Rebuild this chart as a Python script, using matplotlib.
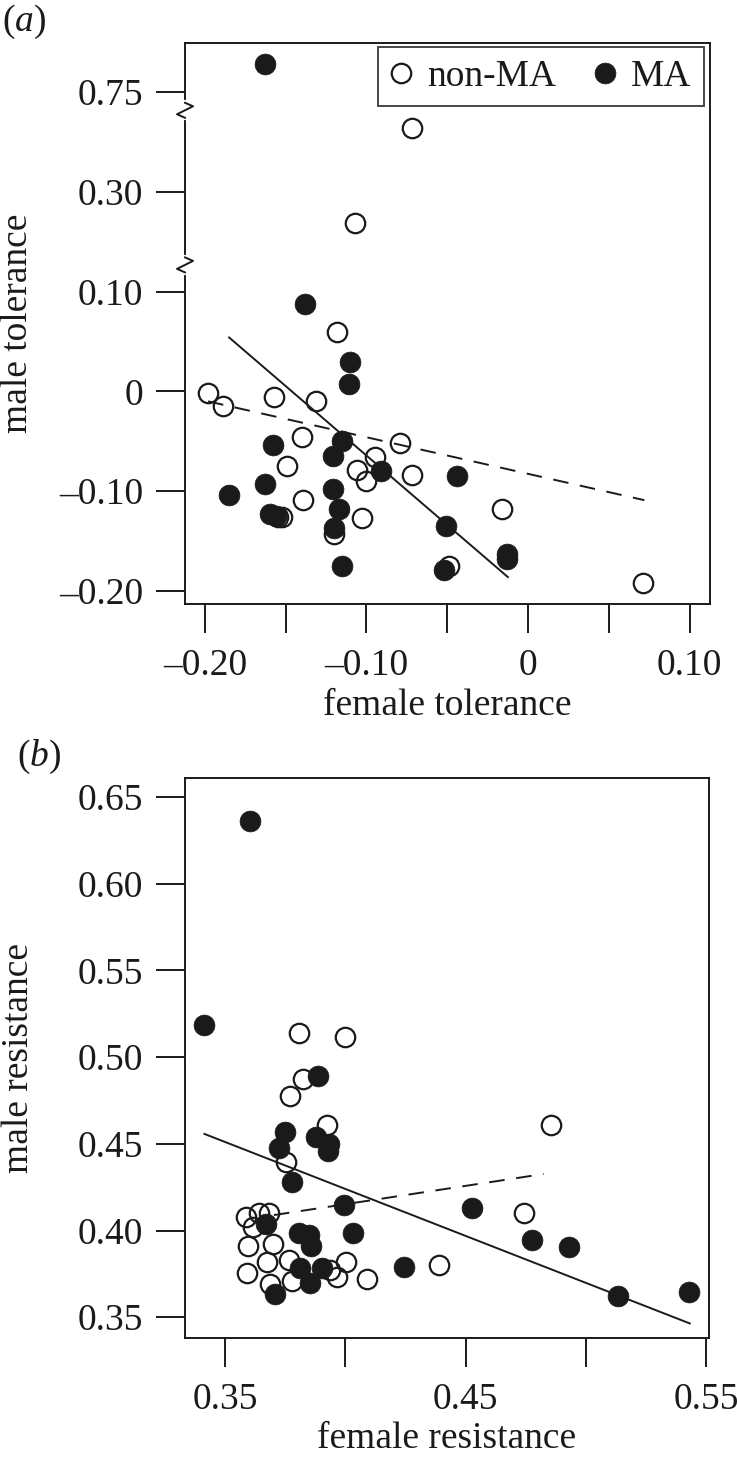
import numpy as np
import matplotlib
matplotlib.use("Agg")
import matplotlib.pyplot as plt
from matplotlib.lines import Line2D

plt.rcParams['font.family'] = ['Liberation Serif', 'DejaVu Serif']
plt.rcParams['mathtext.fontset'] = 'custom'
plt.rcParams['mathtext.it'] = 'Liberation Serif:italic'
plt.rcParams['mathtext.rm'] = 'Liberation Serif'

FS = 27

# ---- panel (a): tolerance ----
tol_non_x = [-0.198, -0.189, -0.157, -0.131, -0.140, -0.149, -0.139, -0.155, -0.152, -0.118, -0.120,
             -0.103, -0.106, -0.100, -0.095, -0.079, -0.072, -0.016, -0.049, 0.071, -0.072, -0.107]
tol_non_y = [-0.002, -0.015, -0.006, -0.010, -0.046, -0.075, -0.109, -0.126, -0.126, 0.059, -0.143,
             -0.127, -0.079, -0.090, -0.066, -0.052, -0.084, -0.118, -0.175, -0.192, 0.589, 0.237]
tol_ma_x = [-0.185, -0.163, -0.158, -0.160, -0.156, -0.115, -0.121, -0.121, -0.117, -0.120, -0.115,
            -0.110, -0.111, -0.091, -0.138, -0.044, -0.051, -0.013, -0.013, -0.052, -0.163]
tol_ma_y = [-0.104, -0.093, -0.054, -0.123, -0.125, -0.050, -0.065, -0.098, -0.118, -0.137, -0.175,
            0.029, 0.007, -0.080, 0.088, -0.085, -0.135, -0.163, -0.168, -0.179, 0.875]
tol_ma_fit_x = [-0.185, -0.0125]
tol_ma_fit_y = [0.054, -0.186]
tol_non_fit_x = [-0.198, 0.072]
tol_non_fit_y = [-0.010, -0.109]

tol_xticks = [-0.20, -0.15, -0.10, -0.05, 0.0, 0.05, 0.10]
tol_xlabels = ['\u20130.20', '', '\u20130.10', '', '0', '', '0.10']
tol_yticks = [-0.20, -0.10, 0.0, 0.10, 0.30, 0.75]
tol_ylabels = ['\u20130.20', '\u20130.10', '0', '0.10', '0.30', '0.75']

# ---- panel (b): resistance ----
res_non_x = [0.3809, 0.3998, 0.3823, 0.3769, 0.3925, 0.3753, 0.4856, 0.4744, 0.4388, 0.4091, 0.3586, 0.3641,
             0.3684, 0.3617, 0.3597, 0.3700, 0.3675, 0.3590, 0.3766, 0.4003, 0.3937, 0.3966, 0.3688, 0.3778]
res_non_y = [0.5139, 0.5116, 0.4873, 0.4773, 0.4609, 0.4397, 0.4609, 0.4099, 0.3800, 0.3718, 0.4076, 0.4099,
             0.4099, 0.4022, 0.3912, 0.3920, 0.3816, 0.3756, 0.3829, 0.3820, 0.3772, 0.3733, 0.3689, 0.3708]
res_ma_x = [0.3414, 0.3603, 0.3888, 0.3750, 0.3723, 0.3877, 0.3934, 0.3927, 0.3780, 0.3994, 0.3669, 0.3809,
            0.3848, 0.3856, 0.4033, 0.3813, 0.3902, 0.3853, 0.3708, 0.4245, 0.4528, 0.4775, 0.4930, 0.5133, 0.5430]
res_ma_y = [0.5187, 0.6360, 0.4892, 0.4571, 0.4474, 0.4542, 0.4499, 0.4461, 0.4280, 0.4147, 0.4037, 0.3983,
            0.3974, 0.3912, 0.3983, 0.3785, 0.3781, 0.3695, 0.3633, 0.3791, 0.4128, 0.3945, 0.3903, 0.3625, 0.3646]
res_ma_fit_x = [0.3414, 0.5433]
res_ma_fit_y = [0.4557, 0.3464]
res_non_fit_x = [0.3703, 0.4825]
res_non_fit_y = [0.4089, 0.4326]

res_xticks = [0.35, 0.40, 0.45, 0.50, 0.55]
res_xlabels = ['0.35', '', '0.45', '', '0.55']
res_yticks = [0.35, 0.40, 0.45, 0.50, 0.55, 0.60, 0.65]
res_ylabels = ['0.35', '0.40', '0.45', '0.50', '0.55', '0.60', '0.65']

# broken y axis for panel (a): piecewise linear scale
knots_val = [-1.0, 0.10, 0.30, 0.75, 1.20]
knots_unit = [-10.0, 1.0, 2.0, 3.0, 4.0]


def fwd(v):
    return np.interp(v, knots_val, knots_unit)


def inv(u):
    return np.interp(u, knots_unit, knots_val)


W, H = 737, 1460
fig = plt.figure(figsize=(W / 100, H / 100), dpi=100)
ax_a = fig.add_axes([185 / W, 1 - 604 / H, 525 / W, 561 / H])
ax_b = fig.add_axes([185 / W, 1 - 1338 / H, 524 / W, 560 / H])

open_kw = dict(linestyle='none', marker='o', ms=14, mfc='none', mec='#1a1a1a', mew=1.6)
fill_kw = dict(linestyle='none', marker='o', ms=15, mfc='#1a1a1a', mec='#1a1a1a', mew=0.5)
LW = 1.4
DASH = (0, (8, 6))


def style(ax, xticks, xlabels, yticks, ylabels):
    for s in ax.spines.values():
        s.set_linewidth(LW)
        s.set_color('#1a1a1a')
    ax.set_xticks(xticks)
    ax.set_xticklabels(xlabels)
    ax.set_yticks(yticks)
    ax.set_yticklabels(ylabels)
    ax.tick_params(axis='both', direction='out', length=21, width=LW, color='#1a1a1a',
                   labelsize=FS, labelcolor='#1a1a1a')
    ax.tick_params(axis='y', pad=9)
    ax.tick_params(axis='x', pad=11)
    ax.minorticks_off()


# panel (a)
ax_a.set_yscale('function', functions=(fwd, inv))
ax_a.plot(tol_non_x, tol_non_y, **open_kw)
ax_a.plot(tol_ma_x, tol_ma_y, **fill_kw)
ax_a.plot(tol_ma_fit_x, tol_ma_fit_y, color='#1a1a1a', lw=LW)
ax_a.plot(tol_non_fit_x, tol_non_fit_y, color='#1a1a1a', lw=LW, linestyle=DASH)
ax_a.set_xlim(-0.2123, 0.1126)
ax_a.set_ylim(inv(-2.13), inv(3.49))
style(ax_a, tol_xticks, tol_xlabels, tol_yticks, tol_ylabels)
ax_a.set_xlabel('female tolerance', fontsize=FS, color='#1a1a1a')
ax_a.set_ylabel('male tolerance', fontsize=FS, color='#1a1a1a')
ax_a.xaxis.set_label_coords(0.5, -0.15)
ax_a.yaxis.set_label_coords(-0.285, 0.5)

# axis break marks on the left spine
ax_h = 561.0
ax_w = 525.0
for u in [1.267, 2.816]:
    yf = (u - (-2.13)) / 5.62
    ax_a.plot([0, 0], [yf - 8 / ax_h, yf + 8 / ax_h], transform=ax_a.transAxes,
              color='white', lw=3, clip_on=False, zorder=5)
    zx = np.array([0, 8, -8, 0]) / ax_w
    zy = yf + np.array([7.5, 4, -4, -7.5]) / ax_h
    ax_a.plot(zx, zy, transform=ax_a.transAxes, color='#1a1a1a', lw=LW,
              clip_on=False, zorder=6)

handles = [Line2D([], [], **open_kw), Line2D([], [], **fill_kw)]
leg = ax_a.legend(handles, ['non-MA', 'MA'], ncol=2, loc='upper right',
                  bbox_to_anchor=(0.988, 0.992), fontsize=FS, frameon=True, fancybox=False,
                  handlelength=0.6, handletextpad=0.4, columnspacing=1.0,
                  borderpad=0.32, borderaxespad=0.0)
leg.get_frame().set_edgecolor('#1a1a1a')
leg.get_frame().set_linewidth(LW)
for t in leg.get_texts():
    t.set_color('#1a1a1a')

# panel (b)
ax_b.plot(res_non_x, res_non_y, **open_kw)
ax_b.plot(res_ma_x, res_ma_y, **fill_kw)
ax_b.plot(res_ma_fit_x, res_ma_fit_y, color='#1a1a1a', lw=LW)
ax_b.plot(res_non_fit_x, res_non_fit_y, color='#1a1a1a', lw=LW, linestyle=DASH)
ax_b.set_xlim(0.3333, 0.5513)
ax_b.set_ylim(0.338, 0.661)
style(ax_b, res_xticks, res_xlabels, res_yticks, res_ylabels)
ax_b.set_xlabel('female resistance', fontsize=FS, color='#1a1a1a')
ax_b.set_ylabel('male resistance', fontsize=FS, color='#1a1a1a')
ax_b.xaxis.set_label_coords(0.5, -0.15)
ax_b.yaxis.set_label_coords(-0.285, 0.5)

fig.text(2 / W, 1 - 22 / H, '($a$)', fontsize=FS, va='center', ha='left', color='#1a1a1a')
fig.text(17 / W, 1 - 757 / H, '($b$)', fontsize=FS, va='center', ha='left', color='#1a1a1a')

fig.savefig('out.png', dpi=100, facecolor='white')
